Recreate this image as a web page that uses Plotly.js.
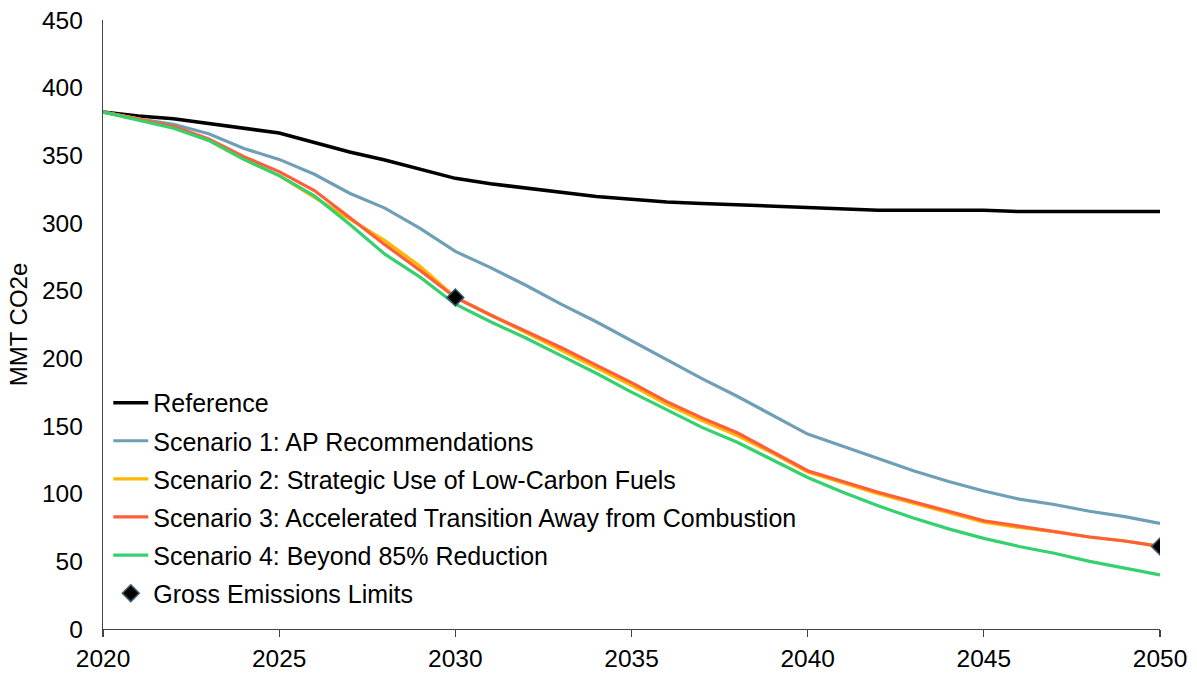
<!DOCTYPE html>
<html>
<head>
<meta charset="utf-8">
<script src="https://cdn.plot.ly/plotly-3.0.1.min.js"></script>
<style>html,body{margin:0;padding:0;background:#fff}#chart{width:1197px;height:673px}</style>
</head>
<body>
<div id="chart"></div>
<script>
const years = [2020,2021,2022,2023,2024,2025,2026,2027,2028,2029,2030,2031,2032,2033,2034,2035,2036,2037,2038,2039,2040,2041,2042,2043,2044,2045,2046,2047,2048,2049,2050];
const reference = [382,379,377,373.5,369.5,366.5,359.5,352.5,346.5,340,333,329,326,323,319.5,317.5,315.5,314.5,313.5,312.5,311.5,310.5,309.5,309.5,309.5,309.5,308.5,308.5,308.5,308.5,308.5];
const scenario1 = [382,377,373,366,355,347,336,322,311,296,279,267,254,240,227,213,199,185,172,158,144,135,126,117,109,102,96,92,87,83,78];
const scenario2 = [382,377,371,361,347,335,319,303,287,268,245,232,219,206,193,180,166,154,143,130,116,108,100,93,86,79,75,72,68,65,61];
const scenario3 = [382,377,371.5,362,349,338,324,304,284,265,245,232,220,208,195,182,168,156,145,131,117,109,101,94,87,80,76,72,68,65,61];
const scenario4 = [382,376,370,361,347,335,320,299,277,260,240,227,215,202,189,175,162,149,138,125,112,101,91,82,74,67,61,56,50,45,40];
const limitYears = [2030, 2050];
const limitValues = [245, 61];
const names = ["Reference","Scenario 1: AP Recommendations","Scenario 2: Strategic Use of Low-Carbon Fuels","Scenario 3: Accelerated Transition Away from Combustion","Scenario 4: Beyond 85% Reduction","Gross Emissions Limits"];
const colors = ["#000000","#6F9FB7","#FFB800","#FF5E3A","#35D16E"];
const series = [reference, scenario1, scenario2, scenario3, scenario4];

const traces = series.map((s,i)=>({
  x: years, y: s, type:'scatter', mode:'lines', name:names[i],
  legendgroup:'g'+i,
  line:{color:colors[i], width: i===0?3.5:3.2}
}));
traces.push({
  x: limitYears, y: limitValues, type:'scatter', mode:'markers', name:names[5],
  legendgroup:'g5',
  marker:{symbol:'diamond', size:13, color:'#000000', line:{color:'#3C5A6E', width:1.5}}
});

const fam = '"Liberation Sans", Arial, sans-serif';
const layout = {
  width:1197, height:673,
  margin:{l:103, r:37, t:20, b:44},
  paper_bgcolor:'#fff', plot_bgcolor:'#fff',
  font:{family:fam, size:24, color:'#000'},
  showlegend:true,
  legend:{x:0.005, y:0.409, xanchor:'left', yanchor:'top', bgcolor:'rgba(0,0,0,0)',
    font:{family:fam, size:25, color:'#000'}, traceorder:'grouped', tracegroupgap:2.6, itemwidth:35},
  xaxis:{range:[2020,2050], tickvals:[2020,2025,2030,2035,2040,2045,2050], ticktext:['2020','2025','2030','2035','2040','2045','2050'],
    showgrid:false, zeroline:false, showline:true, linecolor:'#444', linewidth:1.3,
    ticks:'outside', ticklen:7, tickcolor:'#444', tickwidth:1.3, tickfont:{family:fam,size:24.5,color:'#000'}},
  yaxis:{range:[0,450], tickvals:[0,50,100,150,200,250,300,350,400,450],
    showgrid:false, zeroline:false, showline:true, linecolor:'#444', linewidth:1.3,
    ticks:'', ticklabelstandoff:14, tickfont:{family:fam,size:24.5,color:'#000'},
    title:{text:'MMT CO2e', standoff:7, font:{family:fam,size:24,color:'#000'}}}
};
Plotly.newPlot('chart', traces, layout, {displayModeBar:false, staticPlot:true});
</script>
</body>
</html>
